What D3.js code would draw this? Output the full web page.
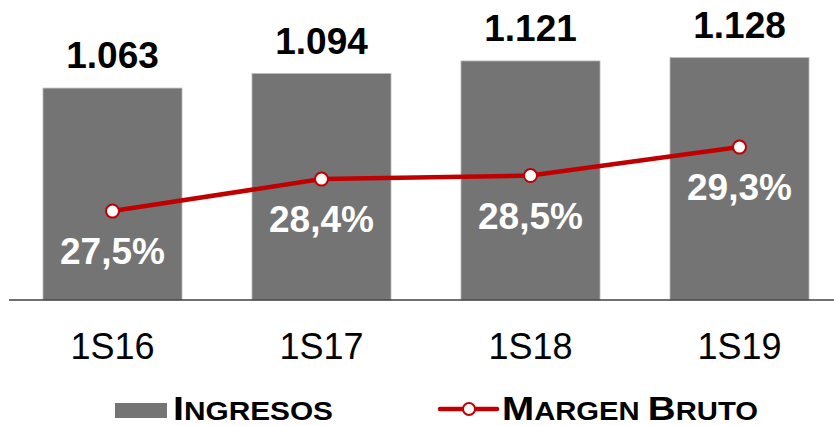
<!DOCTYPE html>
<html>
<head>
<meta charset="utf-8">
<script src="https://cdn.jsdelivr.net/npm/d3@7"></script>
<style>
  html, body { margin: 0; padding: 0; background: #fff; }
  svg { display: block; font-family: "Liberation Sans", Arial, sans-serif; }
</style>
</head>
<body>
<div id="chart"></div>
<script>
// Chart data
const categories = ['1S16', '1S17', '1S18', '1S19'];
const ingresos = [1063, 1094, 1121, 1128];
const margenBruto = [27.5, 28.4, 28.5, 29.3];
const legendItems = ['Ingresos', 'Margen Bruto'];

const width = 834;
const height = 426;
const baseY = 300;

const locale = d3.formatLocale({ decimal: ',', thousands: '.', grouping: [3], currency: ['', ''] });
const fmtInt = locale.format(',');
const fmtPct = d => locale.format('.1f')(d) + '%';

const svg = d3.select('#chart')
  .append('svg')
  .attr('width', width)
  .attr('height', height);

// Scales
const x = d3.scaleBand()
  .domain(categories)
  .range([8, 844])
  .paddingInner(0.335)
  .paddingOuter(0.1675);

const yBar = d3.scaleLinear()
  .domain([610, 1200])
  .range([baseY, 24]);

const yLine = d3.scaleLinear()
  .domain([25, 33])
  .range([baseY, 15.5]);

// Bars
svg.selectAll('rect.bar')
  .data(ingresos)
  .enter()
  .append('rect')
  .attr('class', 'bar')
  .attr('x', (d, i) => x(categories[i]))
  .attr('y', d => yBar(d))
  .attr('width', x.bandwidth())
  .attr('height', d => baseY - yBar(d))
  .attr('fill', '#747474')
  .attr('stroke', '#b8b8b8')
  .attr('stroke-width', 0.8);

// Bar value labels
svg.selectAll('text.val')
  .data(ingresos)
  .enter()
  .append('text')
  .attr('class', 'val')
  .attr('x', (d, i) => x(categories[i]) + x.bandwidth() / 2)
  .attr('y', d => yBar(d) - 20)
  .attr('text-anchor', 'middle')
  .attr('font-size', 37)
  .attr('font-weight', 'bold')
  .attr('fill', '#000')
  .text(d => fmtInt(d));

// X axis
const xAxis = svg.append('g')
  .attr('transform', `translate(0,${baseY})`)
  .call(d3.axisBottom(x).tickSize(0).tickSizeOuter(0));

xAxis.select('.domain')
  .attr('d', `M9,0H${width}`)
  .attr('stroke', '#404040')
  .attr('stroke-width', 1.6);

xAxis.selectAll('.tick text')
  .attr('y', 59)
  .attr('dy', 0)
  .attr('font-size', 36)
  .attr('font-family', '"Liberation Sans", Arial, sans-serif')
  .attr('fill', '#000');

// Line
const line = d3.line()
  .x((d, i) => x(categories[i]) + x.bandwidth() / 2)
  .y(d => yLine(d));

svg.append('path')
  .datum(margenBruto)
  .attr('d', line)
  .attr('fill', 'none')
  .attr('stroke', '#c00000')
  .attr('stroke-width', 4.5);

svg.selectAll('circle.pt')
  .data(margenBruto)
  .enter()
  .append('circle')
  .attr('class', 'pt')
  .attr('cx', (d, i) => x(categories[i]) + x.bandwidth() / 2)
  .attr('cy', d => yLine(d))
  .attr('r', 6.5)
  .attr('fill', '#fff')
  .attr('stroke', '#c00000')
  .attr('stroke-width', 2);

// Percentage labels
svg.selectAll('text.pct')
  .data(margenBruto)
  .enter()
  .append('text')
  .attr('class', 'pct')
  .attr('x', (d, i) => x(categories[i]) + x.bandwidth() / 2)
  .attr('y', d => yLine(d) + 53)
  .attr('text-anchor', 'middle')
  .attr('font-size', 37)
  .attr('font-weight', 'bold')
  .attr('fill', '#fff')
  .text(d => fmtPct(d));

// Legend (small caps)
function smallCaps(g, label, xPos, len) {
  const t = g.append('text')
    .attr('x', xPos)
    .attr('y', 420)
    .attr('font-weight', 'bold')
    .attr('fill', '#000')
    .attr('textLength', len)
    .attr('lengthAdjust', 'spacingAndGlyphs');
  label.split(' ').forEach((word, wi) => {
    if (wi > 0) t.append('tspan').attr('font-size', 25).text(' ');
    t.append('tspan').attr('font-size', 33).text(word[0].toUpperCase());
    t.append('tspan').attr('font-size', 25).text(word.slice(1).toUpperCase());
  });
}

const legend = svg.append('g');

legend.append('rect')
  .attr('x', 115)
  .attr('y', 403)
  .attr('width', 52)
  .attr('height', 15)
  .attr('fill', '#747474');
smallCaps(legend, legendItems[0], 173, 160);

legend.append('line')
  .attr('x1', 440)
  .attr('x2', 497)
  .attr('y1', 409)
  .attr('y2', 409)
  .attr('stroke', '#c00000')
  .attr('stroke-width', 4.5)
  .attr('stroke-linecap', 'round');
legend.append('circle')
  .attr('cx', 469)
  .attr('cy', 409)
  .attr('r', 6)
  .attr('fill', '#fff')
  .attr('stroke', '#c00000')
  .attr('stroke-width', 2);
smallCaps(legend, legendItems[1], 502, 256);
</script>
</body>
</html>
